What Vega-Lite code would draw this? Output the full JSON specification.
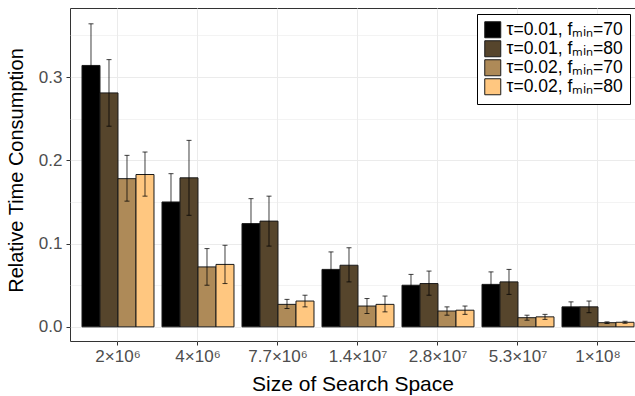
{
  "$schema": "https://vega.github.io/schema/vega-lite/v6.json",
  "width": 565,
  "height": 333,
  "autosize": {"type": "none"},
  "padding": {"left": 70, "top": 8, "right": 0, "bottom": 55},
  "config": {
    "font": "Liberation Sans",
    "view": {"stroke": "#333333", "strokeWidth": 1},
    "axis": {
      "labelFont": "Liberation Sans",
      "titleFont": "Liberation Sans",
      "labelFontSize": 17,
      "labelColor": "#4d4d4d",
      "titleFontSize": 21,
      "titleFontWeight": "normal",
      "titleColor": "#000000",
      "tickColor": "#333333",
      "tickSize": 4,
      "domain": false,
      "gridColor": "#ebebeb"
    }
  },
  "data": {
    "values": [
      {"s": "2×10⁶", "g": "τ=0.01, fₘᵢₙ=70", "v": 0.314, "lo": 0.264, "hi": 0.364},
      {"s": "2×10⁶", "g": "τ=0.01, fₘᵢₙ=80", "v": 0.281, "lo": 0.241, "hi": 0.321},
      {"s": "2×10⁶", "g": "τ=0.02, fₘᵢₙ=70", "v": 0.178, "lo": 0.151, "hi": 0.206},
      {"s": "2×10⁶", "g": "τ=0.02, fₘᵢₙ=80", "v": 0.183, "lo": 0.157, "hi": 0.21},
      {"s": "4×10⁶", "g": "τ=0.01, fₘᵢₙ=70", "v": 0.15, "lo": 0.116, "hi": 0.184},
      {"s": "4×10⁶", "g": "τ=0.01, fₘᵢₙ=80", "v": 0.179, "lo": 0.134, "hi": 0.224},
      {"s": "4×10⁶", "g": "τ=0.02, fₘᵢₙ=70", "v": 0.072, "lo": 0.05, "hi": 0.094},
      {"s": "4×10⁶", "g": "τ=0.02, fₘᵢₙ=80", "v": 0.075, "lo": 0.052, "hi": 0.098},
      {"s": "7.7×10⁶", "g": "τ=0.01, fₘᵢₙ=70", "v": 0.124, "lo": 0.095, "hi": 0.154},
      {"s": "7.7×10⁶", "g": "τ=0.01, fₘᵢₙ=80", "v": 0.127, "lo": 0.097, "hi": 0.157},
      {"s": "7.7×10⁶", "g": "τ=0.02, fₘᵢₙ=70", "v": 0.027, "lo": 0.022, "hi": 0.033},
      {"s": "7.7×10⁶", "g": "τ=0.02, fₘᵢₙ=80", "v": 0.031, "lo": 0.024, "hi": 0.038},
      {"s": "1.4×10⁷", "g": "τ=0.01, fₘᵢₙ=70", "v": 0.069, "lo": 0.048, "hi": 0.09},
      {"s": "1.4×10⁷", "g": "τ=0.01, fₘᵢₙ=80", "v": 0.074, "lo": 0.054, "hi": 0.095},
      {"s": "1.4×10⁷", "g": "τ=0.02, fₘᵢₙ=70", "v": 0.025, "lo": 0.016, "hi": 0.034},
      {"s": "1.4×10⁷", "g": "τ=0.02, fₘᵢₙ=80", "v": 0.027, "lo": 0.018, "hi": 0.037},
      {"s": "2.8×10⁷", "g": "τ=0.01, fₘᵢₙ=70", "v": 0.05, "lo": 0.037, "hi": 0.063},
      {"s": "2.8×10⁷", "g": "τ=0.01, fₘᵢₙ=80", "v": 0.052, "lo": 0.038, "hi": 0.067},
      {"s": "2.8×10⁷", "g": "τ=0.02, fₘᵢₙ=70", "v": 0.019, "lo": 0.014, "hi": 0.024},
      {"s": "2.8×10⁷", "g": "τ=0.02, fₘᵢₙ=80", "v": 0.02, "lo": 0.015, "hi": 0.025},
      {"s": "5.3×10⁷", "g": "τ=0.01, fₘᵢₙ=70", "v": 0.051, "lo": 0.037, "hi": 0.066},
      {"s": "5.3×10⁷", "g": "τ=0.01, fₘᵢₙ=80", "v": 0.054, "lo": 0.039, "hi": 0.069},
      {"s": "5.3×10⁷", "g": "τ=0.02, fₘᵢₙ=70", "v": 0.011, "lo": 0.008, "hi": 0.014},
      {"s": "5.3×10⁷", "g": "τ=0.02, fₘᵢₙ=80", "v": 0.012, "lo": 0.009, "hi": 0.015},
      {"s": "1×10⁸", "g": "τ=0.01, fₘᵢₙ=70", "v": 0.024, "lo": 0.017, "hi": 0.03},
      {"s": "1×10⁸", "g": "τ=0.01, fₘᵢₙ=80", "v": 0.024, "lo": 0.017, "hi": 0.031},
      {"s": "1×10⁸", "g": "τ=0.02, fₘᵢₙ=70", "v": 0.005, "lo": 0.004, "hi": 0.006},
      {"s": "1×10⁸", "g": "τ=0.02, fₘᵢₙ=80", "v": 0.0055, "lo": 0.0043, "hi": 0.0067}
    ]
  },
  "encoding": {
    "x": {
      "field": "s",
      "type": "nominal",
      "sort": null,
      "scale": {"paddingInner": 0.1, "paddingOuter": 0.08125, "align": 0.923},
      "axis": {
        "title": "Size of Search Space",
        "labelAngle": 0,
        "grid": true,
        "bandPosition": 0.5,
        "labelPadding": 3,
        "titlePadding": 9
      }
    },
    "xOffset": {
      "field": "g",
      "type": "nominal",
      "sort": null,
      "scale": {"paddingInner": 0, "paddingOuter": 0}
    }
  },
  "layer": [
    {
      "mark": {"type": "bar", "stroke": "#1a1a1a", "strokeWidth": 1},
      "encoding": {
        "y": {
          "field": "v",
          "type": "quantitative",
          "title": "Relative Time Consumption",
          "scale": {"domain": [-0.017, 0.383], "nice": false, "zero": false},
          "axis": {
            "values": [0, 0.05, 0.1, 0.15, 0.2, 0.25, 0.3, 0.35],
            "labelExpr": "round(datum.value*20) % 2 == 0 ? format(datum.value, '.1f') : ''",
            "tickOpacity": {"condition": {"test": "round(datum.value*20) % 2 == 1", "value": 0}, "value": 1},
            "gridWidth": {"condition": {"test": "round(datum.value*20) % 2 == 1", "value": 0.6}, "value": 1},
            "labelPadding": 4,
            "titleFontSize": 20,
            "titleX": -54,
            "titleY": 162,
            "titleBaseline": "middle",
            "titleAlign": "center"
          }
        },
        "y2": {"datum": 0},
        "fill": {
          "field": "g",
          "type": "nominal",
          "sort": null,
          "scale": {
            "domain": ["τ=0.01, fₘᵢₙ=70", "τ=0.01, fₘᵢₙ=80", "τ=0.02, fₘᵢₙ=70", "τ=0.02, fₘᵢₙ=80"],
            "range": ["#000000", "#56452c", "#ae8a58", "#ffc780"]
          },
          "legend": {
            "title": null,
            "orient": "none",
            "legendX": 407,
            "legendY": 6,
            "symbolType": "square",
            "symbolSize": 256,
            "symbolStrokeColor": "#1a1a1a",
            "symbolStrokeWidth": 1,
            "labelFontSize": 17.5,
            "labelColor": "#000000",
            "labelOffset": 5,
            "strokeColor": "#000000",
            "fillColor": "#ffffff",
            "padding": 7,
            "rowPadding": -5
          }
        }
      }
    },
    {
      "mark": {"type": "rule", "color": "#000000", "opacity": 0.75, "strokeWidth": 1},
      "encoding": {
        "y": {"field": "lo", "type": "quantitative", "title": "Relative Time Consumption"},
        "y2": {"field": "hi"}
      }
    },
    {
      "mark": {"type": "tick", "color": "#000000", "opacity": 0.75, "size": 5, "thickness": 1},
      "encoding": {"y": {"field": "lo", "type": "quantitative", "title": "Relative Time Consumption"}}
    },
    {
      "mark": {"type": "tick", "color": "#000000", "opacity": 0.75, "size": 5, "thickness": 1},
      "encoding": {"y": {"field": "hi", "type": "quantitative", "title": "Relative Time Consumption"}}
    }
  ]
}
